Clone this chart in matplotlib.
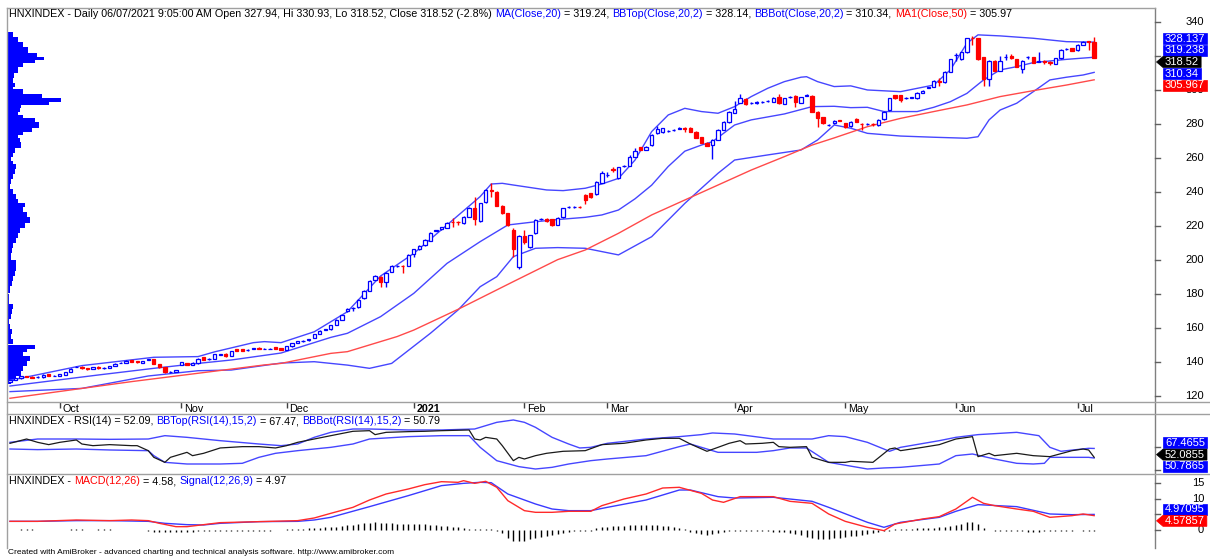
import numpy as np
import matplotlib
matplotlib.use("Agg")
import matplotlib.pyplot as plt
from matplotlib.patches import Polygon
from matplotlib.lines import Line2D
from matplotlib.transforms import IdentityTransform
from matplotlib.font_manager import FontProperties

plt.rcParams['font.family'] = ['Liberation Sans', 'DejaVu Sans']

# ---------------- daily candles (Sep 2020 - 06/07/2021) ----------------
opens = [128.3, 129.5, 130.5, 131.8, 131.3, 131.0, 131.0, 132.8, 131.8, 131.9,
         132.6, 134.0, 137.2, 137.3, 136.3, 135.9, 137.2, 136.3, 136.4, 137.5,
         139.4, 139.5, 141.0, 140.5, 139.7, 141.4, 141.8, 138.8, 136.9, 133.9,
         134.0, 138.3, 139.4, 138.4, 139.2, 142.8, 141.6, 141.8, 144.4, 144.9,
         143.6, 147.5, 147.5, 146.9, 147.8, 148.5, 147.8, 147.8, 148.8, 148.3,
         146.9, 149.2, 151.2, 152.4, 152.8, 154.0, 156.5, 159.0, 159.2, 161.8,
         165.0, 170.0, 171.5, 172.1, 177.4, 182.0, 188.2, 190.2, 187.3, 193.0,
         196.5, 196.6, 196.7, 203.5, 206.3, 208.6, 211.4, 217.3, 218.0, 219.0,
         222.6, 222.3, 221.6, 225.5, 230.4, 223.1, 233.9, 240.9, 240.2, 232.0,
         227.4, 217.6, 196.1, 214.1, 207.4, 215.7, 223.9, 224.1, 224.1, 220.6,
         225.1, 230.9, 231.0, 231.3, 238.2, 239.2, 238.8, 245.5, 250.0, 253.4,
         248.0, 255.2, 255.3, 260.8, 266.3, 264.7, 267.6, 274.5, 275.0, 275.8,
         276.4, 277.3, 277.6, 277.8, 275.5, 272.2, 269.0, 267.6, 270.6, 276.5,
         281.0, 286.7, 292.5, 294.7, 292.1, 292.2, 293.0, 293.6, 293.1, 295.7,
         291.8, 295.6, 296.5, 292.5, 296.6, 296.5, 287.3, 283.9, 279.3, 280.4,
         282.1, 280.4, 278.8, 283.1, 280.1, 279.8, 280.1, 279.4, 282.8, 288.2,
         297.0, 297.0, 295.0, 295.4, 295.1, 298.4, 301.3, 302.0, 305.0, 304.5,
         310.8, 320.5, 318.0, 322.2, 330.6, 330.4, 319.2, 306.3, 317.3, 311.4,
         319.1, 320.0, 318.0, 312.2, 319.1, 319.2, 316.6, 316.8, 316.2, 315.3,
         318.6, 323.8, 324.5, 323.5, 326.5, 328.5, 327.94]
highs = [129.6, 130.8, 131.9, 132.0, 131.5, 131.5, 132.8, 133.0, 132.2, 133.1,
         134.4, 136.3, 137.8, 137.5, 136.5, 137.2, 137.4, 136.8, 137.7, 139.2,
         140.0, 141.0, 141.2, 140.7, 140.8, 142.0, 142.0, 139.0, 137.0, 134.6,
         135.4, 140.0, 139.6, 139.8, 142.2, 143.0, 142.2, 144.7, 144.9, 145.1,
         146.7, 147.8, 147.7, 147.5, 148.5, 148.7, 148.4, 148.3, 149.0, 148.5,
         149.4, 151.4, 152.6, 152.9, 153.6, 156.7, 158.6, 159.6, 162.0, 165.3,
         167.9, 171.5, 172.3, 176.8, 182.3, 188.0, 191.0, 190.5, 193.0, 197.0,
         197.3, 197.0, 203.4, 206.7, 208.6, 212.2, 216.4, 217.9, 219.5, 222.3,
         224.5, 223.0, 226.0, 231.2, 236.8, 233.8, 241.5, 245.0, 240.6, 232.3,
         227.8, 218.6, 214.8, 217.6, 215.0, 223.9, 224.6, 224.5, 224.4, 225.2,
         230.8, 231.6, 231.6, 231.6, 238.6, 239.6, 246.5, 252.5, 251.5, 254.5,
         254.9, 256.0, 261.5, 266.0, 266.6, 267.0, 273.9, 279.0, 277.8, 276.6,
         277.2, 278.4, 278.4, 278.2, 275.8, 272.5, 269.3, 271.0, 276.9, 281.8,
         287.7, 293.7, 297.6, 295.1, 292.9, 293.5, 293.8, 294.3, 295.9, 297.9,
         295.5, 296.6, 296.9, 296.1, 297.6, 296.9, 287.6, 284.2, 280.0, 282.3,
         282.3, 280.7, 281.7, 283.5, 280.5, 280.4, 280.4, 282.7, 287.6, 295.4,
         297.3, 297.3, 295.6, 295.9, 298.7, 299.9, 301.8, 305.6, 306.9, 311.1,
         318.3, 322.0, 322.5, 330.8, 332.0, 330.7, 319.5, 317.6, 317.6, 320.0,
         320.9, 321.3, 318.3, 317.6, 320.2, 319.5, 322.6, 317.5, 317.0, 318.9,
         323.8, 324.5, 324.8, 326.8, 328.7, 328.8, 330.93]
lows = [128.0, 129.3, 130.3, 131.0, 130.6, 130.5, 130.9, 131.7, 131.6, 131.8,
        132.5, 133.9, 136.8, 136.0, 135.6, 135.7, 136.2, 136.1, 136.3, 137.4,
        139.2, 139.4, 140.1, 139.7, 139.6, 141.0, 138.6, 136.7, 133.6, 133.4,
        133.9, 138.1, 138.0, 138.3, 139.1, 141.0, 141.4, 141.7, 144.2, 143.1,
        143.5, 146.4, 146.4, 146.5, 147.6, 147.4, 147.4, 147.4, 147.4, 147.1,
        146.8, 149.1, 151.1, 152.0, 152.6, 153.9, 156.4, 158.7, 159.1, 161.7,
        164.8, 169.6, 170.2, 171.5, 177.0, 181.8, 188.0, 184.3, 184.0, 192.8,
        195.8, 192.5, 196.5, 201.5, 206.0, 208.4, 211.2, 216.9, 217.8, 218.8,
        219.6, 220.8, 221.4, 225.2, 220.6, 222.5, 233.5, 237.3, 231.5, 227.3,
        220.2, 201.6, 195.0, 209.4, 207.0, 215.4, 223.3, 222.6, 219.9, 220.3,
        224.8, 230.4, 230.5, 230.4, 233.0, 236.5, 238.5, 245.2, 249.0, 252.0,
        247.6, 254.5, 255.0, 260.5, 264.4, 264.5, 267.3, 273.9, 274.7, 275.2,
        275.9, 276.8, 275.0, 275.2, 271.7, 268.7, 266.8, 259.2, 270.3, 276.2,
        280.7, 286.4, 292.2, 291.3, 291.6, 292.0, 292.5, 293.1, 292.8, 291.9,
        291.5, 295.2, 290.2, 292.2, 296.2, 287.0, 278.4, 280.1, 278.8, 280.1,
        281.7, 277.7, 278.5, 281.1, 276.5, 279.5, 279.0, 279.1, 282.5, 287.9,
        294.8, 293.0, 294.6, 295.2, 294.8, 298.2, 301.1, 301.7, 302.3, 304.2,
        310.5, 317.0, 317.7, 321.9, 326.5, 317.7, 302.4, 302.4, 311.1, 311.1,
        317.5, 318.3, 313.4, 309.9, 318.5, 315.8, 316.3, 315.5, 314.5, 315.0,
        318.3, 323.3, 322.8, 323.2, 326.2, 323.5, 318.52]
closes = [129.3, 130.5, 131.6, 131.3, 130.9, 131.1, 132.6, 131.9, 131.9, 132.8,
          134.2, 136.0, 137.3, 136.3, 135.9, 137.0, 136.4, 136.5, 137.5, 139.0,
          139.7, 140.7, 140.3, 139.9, 140.5, 141.5, 138.8, 136.9, 133.9, 134.0,
          135.2, 139.8, 138.2, 139.6, 142.0, 141.2, 141.9, 144.5, 144.6, 143.3,
          146.5, 146.6, 146.6, 147.0, 148.2, 147.6, 147.9, 147.9, 147.6, 147.3,
          149.2, 151.2, 152.4, 152.5, 153.4, 156.5, 158.4, 159.2, 161.8, 165.0,
          167.6, 171.2, 171.6, 176.5, 182.0, 187.6, 190.6, 186.9, 192.5, 196.5,
          196.6, 196.4, 203.0, 206.3, 208.2, 211.8, 216.0, 217.4, 219.2, 221.6,
          222.4, 222.1, 225.5, 230.8, 223.9, 233.3, 241.2, 240.7, 232.0, 227.8,
          220.6, 206.3, 214.3, 210.8, 214.7, 223.5, 224.0, 222.9, 220.6, 224.8,
          230.4, 231.1, 231.2, 231.0, 235.3, 237.3, 246.1, 251.0, 250.1, 253.2,
          254.5, 255.4, 260.4, 264.3, 264.7, 266.7, 273.5, 277.2, 277.6, 276.0,
          276.6, 277.5, 277.3, 275.5, 272.0, 269.0, 267.1, 270.6, 276.5, 281.4,
          287.3, 288.6, 295.1, 291.6, 292.3, 293.1, 293.2, 293.8, 295.5, 292.2,
          295.1, 295.8, 293.1, 295.7, 296.8, 287.3, 283.3, 280.4, 279.5, 282.0,
          281.9, 278.0, 281.4, 281.4, 279.9, 280.0, 279.9, 282.4, 287.3, 295.1,
          295.1, 294.1, 295.2, 295.6, 298.4, 299.6, 301.5, 305.3, 304.8, 310.8,
          318.0, 320.7, 322.2, 330.4, 330.4, 318.0, 306.3, 317.3, 311.4, 317.3,
          319.3, 318.6, 313.7, 317.3, 319.3, 316.1, 316.8, 316.6, 316.0, 318.6,
          323.5, 324.0, 323.1, 326.5, 328.4, 328.3, 318.52]

# month starts (bar index) for the date strip
month_labels = ["Oct", "Nov", "Dec", "2021", "Feb", "Mar", "Apr", "May", "Jun", "Jul"]
month_idx = [9, 31, 50, 73, 93, 108, 131, 151, 171, 193]

# ---------------- price overlays, sampled (bar index, value) ----------------
ma20_idx = [0, 16, 26, 34, 40, 49, 58, 61, 67, 73, 79, 85, 90, 95, 99, 104, 107, 110, 113, 116,
            119, 122, 125, 127, 131, 134, 140, 145, 149, 152, 155, 158, 164, 167, 170, 173, 176,
            179, 182, 185, 191, 196]
ma20_val = [125.9, 132.4, 136.3, 139.2, 141.2, 145.3, 154.5, 156.9, 166.7, 180.4, 198.0, 210.8,
            220.6, 222.5, 223.8, 225.1, 226.5, 229.4, 236.0, 244.0, 255.0, 264.0, 267.6, 269.6,
            279.4, 282.4, 285.9, 290.2, 290.4, 289.6, 289.8, 287.3, 287.3, 289.8, 293.1, 298.0,
            305.9, 311.8, 313.7, 316.1, 318.0, 319.238]
bbtop_idx = [0, 13, 26, 34, 37, 44, 46, 49, 55, 61, 67, 73, 79, 85, 87, 89, 91, 97, 100, 104,
             107, 110, 113, 116, 119, 122, 125, 128, 131, 134, 137, 140, 143, 144, 146, 149, 152,
             155, 161, 167, 170, 173, 175, 179, 185, 191, 196]
bbtop_val = [129.2, 137.9, 142.8, 143.2, 146.0, 151.4, 152.0, 151.4, 157.8, 169.6, 190.6, 203.9,
             220.6, 237.3, 244.7, 245.1, 244.1, 241.2, 240.8, 242.2, 244.7, 248.0, 258.8, 275.5,
             285.3, 289.2, 287.3, 286.3, 290.2, 296.1, 301.0, 304.9, 307.5, 307.8, 304.9, 302.0,
             302.4, 300.0, 299.0, 302.9, 311.8, 327.5, 332.4, 331.8, 330.4, 328.4, 328.137]
bbbot_idx = [0, 13, 25, 34, 40, 49, 55, 61, 65, 69, 76, 81, 85, 88, 91, 95, 99, 104, 110, 116,
             122, 125, 128, 131, 137, 143, 146, 149, 152, 155, 161, 167, 173, 175, 177, 179, 182,
             185, 188, 191, 194, 196]
bbbot_val = [122.6, 124.5, 131.8, 134.9, 135.3, 139.4, 140.2, 138.2, 136.3, 139.2, 156.9, 170.6,
             184.3, 190.2, 202.0, 206.9, 207.3, 206.9, 203.0, 213.7, 233.3, 242.2, 251.0, 258.8,
             261.8, 264.7, 270.6, 279.4, 277.5, 274.5, 272.9, 272.2, 271.6, 272.5, 282.4, 288.2,
             292.2, 299.0, 305.9, 307.5, 308.8, 310.34]
ma50_idx = [0, 22, 46, 49, 58, 61, 70, 73, 81, 91, 99, 104, 110, 116, 122, 128, 134, 140, 145,
            149, 155, 161, 167, 173, 179, 185, 191, 196]
ma50_val = [118.7, 128.5, 138.3, 139.2, 145.1, 146.1, 155.0, 158.8, 171.0, 187.3, 200.2, 205.9,
            215.7, 226.5, 235.3, 244.1, 252.9, 260.8, 267.6, 271.8, 278.4, 283.3, 287.3, 291.2,
            296.1, 299.6, 302.9, 305.967]

# volume-at-price profile (price level, relative volume)
vap_price = [332.4, 329.4, 326.5, 323.5, 320.6, 318.6, 316.7, 314.7, 311.8, 308.8,
             305.9, 302.9, 301.0, 299.0, 296.1, 294.1, 292.2, 290.2, 288.2, 286.3,
             284.3, 282.4, 279.4, 276.5, 274.5, 272.6, 270.6, 267.7, 264.7, 261.8,
             259.8, 256.9, 254.9, 252.0, 249.0, 246.1, 243.1, 240.2, 237.3, 234.3,
             232.4, 229.4, 226.5, 223.5, 220.6, 217.7, 214.7, 211.8, 208.8, 205.9,
             202.0, 198.1, 195.1, 192.2, 189.2, 186.3, 182.4, 178.4, 175.5, 172.6,
             169.6, 166.7, 163.7, 160.8, 157.9, 154.9, 152.0, 149.0, 147.1, 145.1,
             142.2, 139.2, 136.3, 133.3, 130.4, 128.4]
vap_volume = [5.7, 10.7, 15.7, 20.7, 29.0, 35.7, 27.3, 15.7, 10.7, 6.7,
              5.7, 7.3, 5.7, 15.7, 34.0, 52.3, 40.7, 14.0, 12.3, 10.7,
              15.7, 27.3, 30.7, 24.0, 15.7, 10.7, 12.3, 13.3, 7.3, 5.7,
              4.0, 5.7, 9.0, 7.3, 5.7, 4.0, 3.3, 5.7, 9.0, 10.7,
              17.3, 15.7, 19.0, 22.3, 17.3, 12.3, 10.7, 9.0, 5.7, 4.7,
              4.0, 9.0, 9.0, 7.3, 5.7, 4.7, 3.3, 2.3, 2.3, 5.7,
              4.7, 4.0, 2.3, 3.3, 4.7, 4.0, 5.7, 27.3, 19.0, 15.7,
              22.3, 19.0, 15.7, 14.0, 9.0, 4.0]

# ---------------- RSI(14) with Bollinger bands (15,2) ----------------
rsi_idx = [0, 3, 5, 7, 9, 12, 13, 15, 18, 22, 23, 25, 26, 28, 29, 30, 32, 33, 35, 38, 42, 45, 48,
           50, 52, 55, 58, 62, 65, 66, 68, 72, 75, 78, 83, 84, 85, 86, 88, 89, 91, 92, 93, 95, 97,
           100, 104, 107, 111, 115, 118, 121, 123, 126, 128, 130, 132, 133, 136, 138, 139, 141,
           144, 145, 148, 151, 152, 156, 159, 160, 161, 165, 168, 171, 174, 175, 177, 178, 182,
           185, 188, 192, 194, 195, 196]
rsi_val = [76.4, 83.9, 78.1, 74.1, 78.1, 82.2, 75.2, 72.3, 74.1, 72.3, 72.3, 63.6, 52.0, 43.3,
           52.0, 54.9, 60.7, 54.9, 59.0, 68.3, 70.6, 70.6, 68.3, 72.3, 78.1, 83.9, 89.7, 97.3, 98.4,
           91.5, 95.5, 96.7, 97.3, 98.4, 99.6, 83.9, 82.2, 86.8, 83.9, 72.3, 46.2, 52.0, 49.1, 54.9,
           59.0, 62.5, 63.6, 74.1, 76.4, 82.2, 85.1, 85.1, 75.2, 62.5, 69.4, 76.4, 81.0, 75.2, 76.4,
           78.1, 70.6, 69.4, 70.6, 52.0, 43.3, 43.3, 45.1, 43.3, 66.5, 68.3, 63.6, 69.4, 74.1, 83.9,
           88.0, 53.2, 59.0, 54.9, 59.0, 54.9, 53.2, 63.6, 66.5, 64.8, 52.0855]
rsi_top_idx = [0, 5, 12, 18, 25, 28, 32, 38, 45, 49, 52, 55, 58, 62, 65, 72, 78, 84, 88, 91, 93,
               95, 98, 101, 103, 105, 108, 115, 121, 125, 127, 131, 138, 145, 148, 151, 155, 159,
               161, 168, 171, 175, 182, 186, 188, 190, 195, 196]
rsi_top_val = [78.1, 83.9, 83.9, 83.3, 83.9, 89.7, 86.8, 81.0, 75.2, 72.3, 75.2, 86.8, 95.5,
               101.3, 101.3, 99.6, 99.6, 101.3, 112.9, 117.0, 112.9, 104.2, 86.8, 75.2, 68.3, 69.4,
               76.4, 83.9, 88.0, 91.5, 94.4, 92.6, 83.9, 83.9, 89.7, 88.0, 78.1, 62.5, 69.4, 81.0,
               86.8, 91.5, 95.5, 89.7, 69.4, 62.5, 67.7, 67.4655]
rsi_bot_idx = [0, 5, 12, 18, 25, 26, 28, 32, 38, 42, 45, 48, 52, 58, 62, 65, 72, 78, 83, 85, 88,
               92, 95, 98, 101, 105, 108, 115, 121, 123, 128, 135, 138, 141, 144, 148, 155, 158,
               161, 168, 171, 174, 178, 182, 185, 187, 188, 195, 196]
rsi_bot_val = [66.5, 65.4, 66.5, 64.8, 63.6, 54.9, 43.3, 40.4, 40.4, 41.6, 52.0, 59.0, 63.6, 69.4,
               75.2, 83.9, 88.0, 89.7, 89.7, 69.4, 46.2, 35.8, 31.7, 34.6, 40.4, 46.2, 49.1, 54.9,
               70.6, 75.2, 60.7, 60.7, 63.6, 68.3, 68.3, 43.3, 31.7, 33.5, 34.6, 40.4, 54.9, 57.8,
               49.1, 41.6, 40.4, 41.6, 52.0, 52.0, 50.7865]

# ---------------- MACD(12,26), signal(9) and histogram ----------------
macd_idx = [0, 5, 12, 18, 22, 25, 27, 30, 32, 35, 38, 45, 52, 55, 58, 62, 65, 68, 72, 75, 78, 81,
            82, 84, 86, 88, 90, 93, 95, 98, 101, 105, 107, 111, 115, 118, 121, 125, 127, 129, 132,
            138, 141, 145, 148, 151, 155, 158, 160, 165, 168, 171, 174, 176, 178, 182, 185, 188,
            192, 194, 196]
macd_val = [2.76, 2.76, 3.19, 2.98, 3.19, 2.98, 2.13, 1.06, 1.06, 1.70, 2.34, 2.66, 2.98, 3.83,
            5.32, 7.23, 9.57, 11.49, 13.08, 14.47, 15.42, 15.21, 15.74, 14.89, 15.53, 13.62, 9.36,
            6.17, 5.64, 5.64, 5.96, 5.96, 7.77, 9.89, 11.49, 13.40, 13.62, 11.70, 9.57, 8.83,
            10.64, 10.64, 9.15, 8.51, 5.11, 2.76, 0.85, -0.21, 1.91, 3.51, 4.26, 6.70, 10.43, 8.51,
            7.77, 6.70, 5.96, 4.04, 4.57, 5.11, 4.57857]
signal_idx = [0, 5, 12, 18, 25, 28, 32, 35, 38, 45, 52, 55, 58, 65, 72, 78, 82, 85, 87, 90, 95,
              98, 101, 105, 108, 115, 121, 123, 128, 131, 138, 145, 148, 155, 158, 161, 168, 171,
              175, 182, 188, 192, 196]
signal_val = [2.76, 2.76, 2.98, 2.98, 2.76, 2.13, 1.70, 1.60, 2.13, 2.66, 2.76, 3.19, 4.04, 7.45,
              10.96, 14.15, 14.89, 15.21, 15.10, 11.49, 8.30, 6.70, 6.17, 6.17, 7.23, 9.57, 12.76,
              12.76, 10.64, 10.21, 10.43, 9.15, 7.23, 2.45, 0.85, 2.45, 4.04, 5.96, 8.09, 7.45,
              5.11, 4.89, 4.97095]
macd_hist = [0, 0, 0.3, 0.3, 0.3, 0, 0, 0, 0, 0,
             0, 0.3, 0.3, 0.3, 0, 0, 0.3, 0.3, 0.3, 0,
             0, 0, 0, 0, 0, -0.3, -0.5, -0.6, -0.7, -0.8,
             -0.8, -0.7, -0.6, -0.5, -0.4, -0.3, -0.3, -0.3, -0.3, -0.3,
             -0.3, -0.3, -0.3, -0.3, -0.3, -0.3, -0.3, -0.3, 0, 0,
             0.3, 0.3, 0.3, 0.4, 0.5, 0.6, 0.7, 0.8, 0.9, 1.0,
             1.2, 1.5, 1.7, 1.9, 2.1, 2.3, 2.4, 2.3, 2.2, 2.1,
             2.0, 2.0, 1.9, 1.9, 1.8, 1.8, 1.7, 1.6, 1.4, 1.3,
             1.1, 0.9, 0.7, 0.4, 0.3, 0.3, 0.3, 0.3, -0.3, -1.0,
             -2.5, -3.6, -3.6, -3.4, -3.0, -2.6, -2.2, -1.8, -1.5, -1.2,
             -0.9, -0.6, -0.4, -0.3, -0.3, -0.3, 0.6, 0.9, 1.1, 1.2,
             1.3, 1.4, 1.5, 1.5, 1.5, 1.6, 1.6, 1.5, 1.4, 1.3,
             0.9, 0.5, 0.3, -0.5, -0.9, -1.3, -1.5, -1.4, -1.1, -0.8,
             -0.3, -0.3, -0.3, -0.3, -0.3, -0.3, -0.3, -0.3, -0.5, -0.6,
             -0.8, -1.0, -1.3, -1.7, -2.1, -2.5, -2.8, -2.9, -2.8, -2.6,
             -2.4, -2.2, -2.0, -1.8, -1.6, -1.4, -1.1, -0.8, -0.4, -0.3,
             0.3, 0.35, 0.4, 0.45, 0.5, 0.55, 0.6, 0.7, 0.8, 1.0,
             1.3, 1.6, 2.0, 2.4, 2.5, 1.8, 0.5, 0, -0.3, -0.4,
             -0.4, -0.4, -0.45, -0.45, -0.5, -0.5, -0.5, -0.45, -0.4, -0.4,
             -0.35, -0.3, -0.3, 0, -0.3, -0.3, -0.39]

price_ticks = [120, 140, 160, 180, 200, 220, 240, 260, 280, 300, 320, 340]
rsi_ticks = [30, 70]
macd_ticks = [0, 5, 10, 15]

# ---------------- layout (pixels, top-left origin) ----------------
W, H = 1210, 558
PANE_L, PANE_R = 7, 1155
BLUE = '#0000ff'
BAND = '#4646ff'
RED = '#ff0000'
MA50_RED = '#ff4a4a'
GRID_GRAY = '#a0a0a0'
FONT = 'Liberation Sans'
CAP_SIZE = 7.75

fig = plt.figure(figsize=(W / 100, H / 100), dpi=100)
fig.patch.set_facecolor('white')
renderer = fig.canvas.get_renderer()
ID = IdentityTransform()


def add_pane(top, bottom):
    a = fig.add_axes([PANE_L / W, 1 - bottom / H, (PANE_R - PANE_L) / W, (bottom - top) / H])
    for s in a.spines.values():
        s.set_visible(False)
    a.set_xticks([])
    a.set_yticks([])
    a.patch.set_alpha(0)
    a.set_xlim(-0.54, 207.0)
    return a


ax = add_pane(8, 402)
ax_date = add_pane(402, 414)
ax_rsi = add_pane(414, 474)
ax_macd = add_pane(474, 547)
ax.set_ylim(116.5, 348.2)
ax_date.set_ylim(0, 1)
ax_rsi.set_ylim(23.0, 127.4)
ax_macd.set_ylim(-5.43, 17.87)


def text_w(s, size, weight='normal'):
    fp = FontProperties(family=FONT, size=size, weight=weight)
    w, h, d = renderer.get_text_width_height_descent(s, fp, ismath=False)
    return w


def fig_line(xs, ys, color=GRID_GRAY, lw=1.0, z=2):
    fig.add_artist(Line2D(xs, [H - y for y in ys], transform=ID, color=color, lw=lw, zorder=z))


def draw_segments(x0, y, segs, size):
    # multi-coloured caption, pieces laid out one after another
    full = ''
    bar_w = text_w('|', size)
    for s, c in segs:
        lead = len(s) - len(s.lstrip())
        xoff = text_w(full + s[:lead] + '|', size) - bar_w if (full or lead) else 0
        fig.text(x0 + xoff, H - y, s.strip(), color=c, fontsize=size, ha='left', va='center',
                 transform=ID)
        full += s


def spread(ys, gap):
    groups = []
    for y in ys:
        groups.append([y])
        while len(groups) > 1:
            g1, g2 = groups[-2], groups[-1]
            bottom1 = np.mean(g1) + (len(g1) - 1) / 2 * gap
            top2 = np.mean(g2) - (len(g2) - 1) / 2 * gap
            if top2 - bottom1 < gap:
                groups[-2] = g1 + g2
                groups.pop()
            else:
                break
    out = []
    for g in groups:
        c = np.mean(g)
        out += [c + (k - (len(g) - 1) / 2) * gap for k in range(len(g))]
    return out


def value_labels(a, items, gap=11.6):
    ys = [H - a.transData.transform((0, v))[1] for v, c, arrow in items]
    order = np.argsort(ys)
    pos = spread([ys[i] for i in order], gap)
    spans = []
    for k, i in enumerate(order):
        v, c, arrow = items[i]
        yc = pos[k]
        s = f"{v:g}"
        x0 = PANE_R + 8
        x1 = x0 + text_w(s, 8) + 4
        pts = [(x0, yc - 5.5), (x1, yc - 5.5), (x1, yc + 5.5), (x0, yc + 5.5)]
        if arrow:
            pts.append((PANE_R + 1.5, yc))
        fig.add_artist(Polygon([(p, H - q) for p, q in pts], closed=True, transform=ID,
                               fc=c, ec=c, lw=0.5, zorder=5))
        fig.text(x0 + 2, H - yc, s, color='white', fontsize=8, ha='left', va='center',
                 transform=ID, zorder=6)
        spans.append((yc - 6, yc + 6))
    return spans


def covered(yp, spans, half=4):
    # is the whole tick label hidden behind the value boxes?
    pts = np.linspace(yp - half, yp + half, 9)
    return all(any(lo <= p <= hi for lo, hi in spans) for p in pts)


def axis_ticks(a, ticks, spans, labels=True):
    for t in ticks:
        yp = H - a.transData.transform((0, t))[1]
        fig_line([PANE_R, PANE_R + 5], [yp, yp], color='#606060')
        if labels and not covered(yp, spans):
            fig.text(1204, H - yp, f"{t}", fontsize=8, ha='right', va='center', transform=ID, zorder=3)


# ---------------- price pane ----------------
o = np.array(opens)
h = np.array(highs)
l = np.array(lows)
c = np.array(closes)
x = np.arange(len(c))
up = c >= o

px_per_bar = (PANE_R - PANE_L) / (ax.get_xlim()[1] - ax.get_xlim()[0])
vp = np.array(vap_price)
vv = np.array(vap_volume)
ax.barh(vp, vv / vv.max() * 54 / px_per_bar, height=np.abs(np.gradient(vp)) * 1.05,
        left=ax.get_xlim()[0], color=BLUE, edgecolor='none', zorder=1)

ax.plot(bbtop_idx, bbtop_val, color=BAND, lw=1, zorder=2)
ax.plot(ma20_idx, ma20_val, color=BAND, lw=1, zorder=2)
ax.plot(bbbot_idx, bbbot_val, color=BAND, lw=1, zorder=2)
ax.plot(ma50_idx, ma50_val, color=MA50_RED, lw=1, zorder=2)

ax.vlines(x, l, h, colors=np.where(up, BLUE, RED), lw=1, zorder=3)
ax.bar(x[up], np.maximum(c[up] - o[up], 0.15), bottom=o[up], width=0.6, facecolor='white',
       edgecolor=BLUE, lw=0.9, zorder=4)
ax.bar(x[~up], o[~up] - c[~up], bottom=c[~up], width=0.6, facecolor=RED,
       edgecolor=RED, lw=0.9, zorder=4)

# ---------------- date strip ----------------
ax_date.vlines(month_idx, 0.5, 1, color='#404040', lw=1)
for i, lab in zip(month_idx, month_labels):
    ax_date.text(i + 0.45, 0.45, lab, ha='left', va='center', fontsize=7.75,
                 fontweight='bold' if lab == '2021' else 'normal')

# ---------------- RSI pane ----------------
ax_rsi.plot(rsi_top_idx, rsi_top_val, color=BAND, lw=1)
ax_rsi.plot(rsi_bot_idx, rsi_bot_val, color=BAND, lw=1)
ax_rsi.plot(rsi_idx, rsi_val, color='#1a1a1a', lw=0.9)

# ---------------- MACD pane ----------------
ax_macd.vlines(np.arange(len(macd_hist)), 0, macd_hist, color='black', lw=1)
ax_macd.plot(signal_idx, signal_val, color='#3a3aff', lw=1)
ax_macd.plot(macd_idx, macd_val, color='#ff2a2a', lw=1)

# ---------------- frame ----------------
fig_line([PANE_L, PANE_L], [8, 548])
fig_line([PANE_R, PANE_R], [8, 548], color='#808080')
fig_line([PANE_L, PANE_R], [8, 8])
for yy in (402, 414, 474):
    fig_line([PANE_L, W], [yy, yy])

spans_main = value_labels(ax, [(bbtop_val[-1], BLUE, False), (ma20_val[-1], BLUE, False),
                               (closes[-1], 'black', True), (bbbot_val[-1], BLUE, False),
                               (ma50_val[-1], RED, False)])
spans_rsi = value_labels(ax_rsi, [(rsi_top_val[-1], BLUE, False), (rsi_val[-1], 'black', True),
                                  (rsi_bot_val[-1], BLUE, False)])
spans_macd = value_labels(ax_macd, [(signal_val[-1], BLUE, False), (macd_val[-1], RED, True)])

axis_ticks(ax, price_ticks, spans_main)
axis_ticks(ax_rsi, rsi_ticks, spans_rsi, labels=False)
axis_ticks(ax_macd, macd_ticks, spans_macd)

# ---------------- captions ----------------
draw_segments(9, 14, [
    ("HNXINDEX - Daily 06/07/2021 9:05:00 AM Open 327.94, Hi 330.93, Lo 318.52, Close 318.52 (-2.8%) ", 'black'),
    ("MA(Close,20)", BLUE), (" = 319.24, ", 'black'),
    ("BBTop(Close,20,2)", BLUE), (" = 328.14, ", 'black'),
    ("BBBot(Close,20,2)", BLUE), (" = 310.34, ", 'black'),
    ("MA1(Close,50)", RED), (" = 305.97", 'black')], CAP_SIZE)
draw_segments(9, 421, [
    ("HNXINDEX - RSI(14) = 52.09, ", 'black'),
    ("BBTop(RSI(14),15,2)", BLUE), (" = 67.47, ", 'black'),
    ("BBBot(RSI(14),15,2)", BLUE), (" = 50.79", 'black')], CAP_SIZE)
draw_segments(9, 481, [
    ("HNXINDEX - ", 'black'), ("MACD(12,26)", RED), (" = 4.58, ", 'black'),
    ("Signal(12,26,9)", BLUE), (" = 4.97", 'black')], CAP_SIZE)
fig.text(8, H - 553, "Created with AmiBroker - advanced charting and technical analysis software. "
         "http://www.amibroker.com", fontsize=6, ha='left', va='center', transform=ID)

fig.savefig("out.png", dpi=100, facecolor='white')
